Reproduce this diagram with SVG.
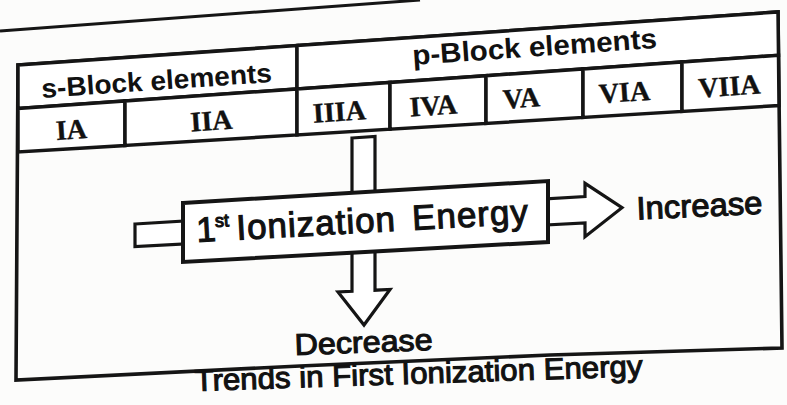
<svg xmlns="http://www.w3.org/2000/svg" width="787" height="405" viewBox="0 0 787 405">
<style>
  .ln{fill:none;stroke:#151515;stroke-width:3.6;stroke-linejoin:miter}
  .cell{fill:#fff;stroke:#151515;stroke-width:3.5;stroke-linejoin:miter}
  .hdr{font-family:"Liberation Sans",Arial,sans-serif;font-weight:bold;fill:#111}
  .num{font-family:"Liberation Serif","Times New Roman",serif;font-weight:bold;font-size:28px;fill:#111;text-anchor:middle;stroke:#111;stroke-width:0.4}
  .lbl{font-family:"Liberation Sans",Arial,sans-serif;fill:#111;stroke:#111;stroke-width:1.1}
  .arrow{fill:#fff;stroke:#151515;stroke-width:3.2;stroke-linejoin:miter}
  .box{fill:#fff;stroke:#151515;stroke-width:4;stroke-linejoin:miter}
</style>
<rect width="787" height="405" fill="#fcfcfb"/>
<line x1="0" y1="31" x2="420" y2="0" stroke="#151515" stroke-width="3"/>

<g id="frame">
  <path class="ln" d="M18,65 L778,12 L782,348 L550,355 L300,366 L16,380 Z"/>
</g>

<g id="s-block-header">
  <polygon class="cell" points="18,65 297,45.6 297,89 18,108.5"/>
  <text class="hdr" font-size="27" x="42" y="98" transform="rotate(-4 42 98)" textLength="231" lengthAdjust="spacingAndGlyphs">s-Block elements</text>
</g>
<g id="p-block-header">
  <polygon class="cell" points="297,45.6 778,12 778.5,55.3 297,89"/>
  <text class="hdr" font-size="28" x="413" y="65" transform="rotate(-4 413 65)" textLength="245" lengthAdjust="spacingAndGlyphs">p-Block elements</text>
</g>

<g id="group-IA">
  <polygon class="cell" points="18,108.5 125,101 125,145.5 18,152"/>
  <text class="num" x="72" y="139" transform="rotate(-3.8 72 139)">IA</text>
</g>
<g id="group-IIA">
  <polygon class="cell" points="125,101 297,89 297,134.9 125,145.5"/>
  <text class="num" x="212" y="130" transform="rotate(-3.8 212 130)">IIA</text>
</g>
<g id="group-IIIA">
  <polygon class="cell" points="297,89 390,82.5 390,129.2 297,134.9"/>
  <text class="num" x="340" y="121" transform="rotate(-3.8 340 121)">IIIA</text>
</g>
<g id="group-IVA">
  <polygon class="cell" points="390,82.5 486,75.7 486,123.4 390,129.2"/>
  <text class="num" x="434" y="115" transform="rotate(-3.8 434 115)">IVA</text>
</g>
<g id="group-VA">
  <polygon class="cell" points="486,75.7 583,69 583,117.4 486,123.4"/>
  <text class="num" x="522" y="107.5" transform="rotate(-3.8 522 107.5)">VA</text>
</g>
<g id="group-VIA">
  <polygon class="cell" points="583,69 682,62 682,111.4 583,117.4"/>
  <text class="num" x="625" y="101.5" transform="rotate(-3.8 625 101.5)">VIA</text>
</g>
<g id="group-VIIA">
  <polygon class="cell" points="682,62 778.5,55.3 779,105.5 682,111.4"/>
  <text class="num" x="730" y="95.5" transform="rotate(-3.8 730 95.5)">VIIA</text>
</g>

<g id="connectors">
  <polygon id="arrow-down" class="arrow" points="352,138 375,136.5 375,290.2 390,289.5 364,325 338,292 352,291.3"/>
  <polygon id="arrow-right" class="arrow" points="135,224 585,196.5 585,183.3 622,207.7 585,236.7 585,223 135,246.5"/>
</g>

<g id="ionization-energy">
  <polygon class="box" points="183,203 548,181 548,242 183,262"/>
  <text class="lbl" font-size="35" transform="translate(197,242) rotate(-3.2)"><tspan x="0" y="0">1</tspan><tspan x="19" y="-14" font-size="18">st</tspan><tspan x="40" y="0" letter-spacing="1">Ionization</tspan><tspan x="216" y="0" letter-spacing="1">Energy</tspan></text>
</g>

<g id="increase">
  <text class="lbl" font-size="32" x="637" y="219.5" transform="rotate(-2.6 637 219.5)" textLength="126" lengthAdjust="spacingAndGlyphs">Increase</text>
</g>
<g id="decrease">
  <text class="lbl" font-size="30" x="295" y="355" transform="rotate(-2.1 295 355)" textLength="138" lengthAdjust="spacingAndGlyphs">Decrease</text>
</g>
<g id="caption">
  <text class="lbl" font-size="30" x="195" y="391" transform="rotate(-1.9 195 391)" textLength="448" lengthAdjust="spacingAndGlyphs">Trends in First Ionization Energy</text>
</g>
</svg>
